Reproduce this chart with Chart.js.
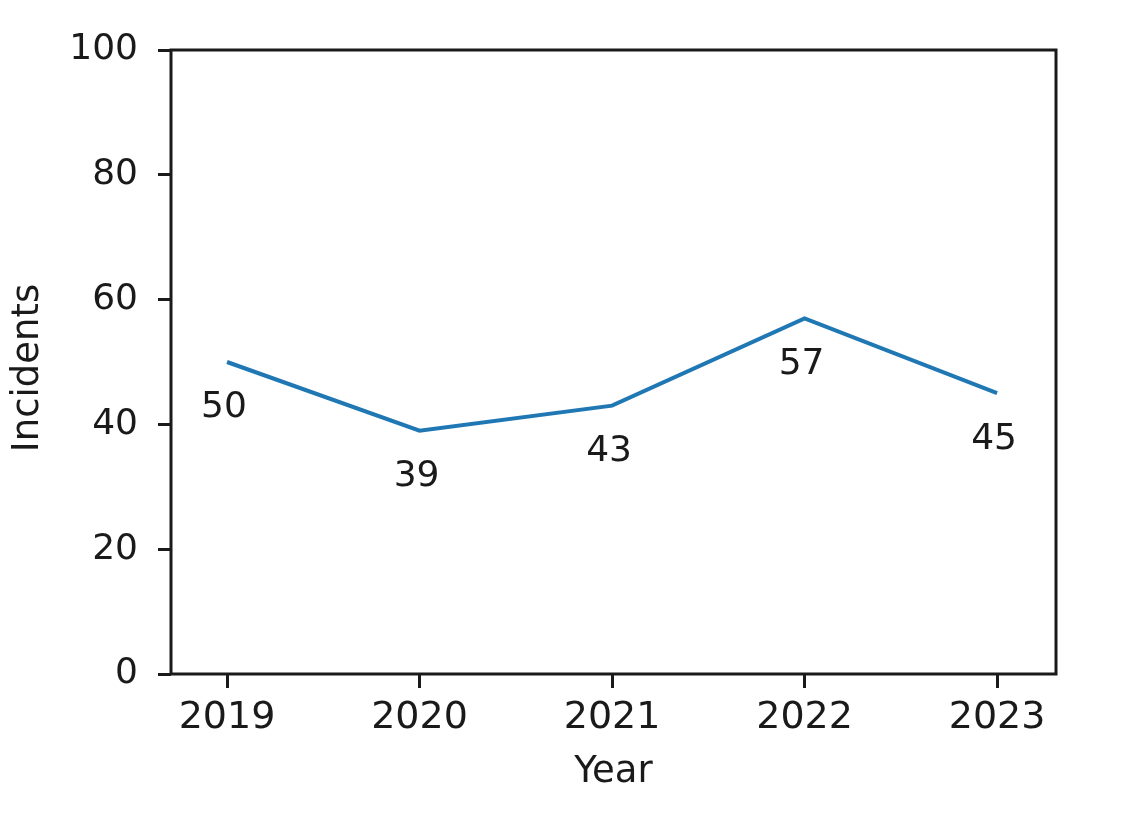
<!DOCTYPE html>
<html>
<head>
<meta charset="utf-8">
<script src="https://cdn.jsdelivr.net/npm/chart.js@4/dist/chart.umd.min.js"></script>
<style>
  html, body { margin: 0; padding: 0; background: #fff; }
  #wrap { width: 1122px; height: 829px; }
</style>
</head>
<body>
<div id="wrap"><canvas id="chart" width="1122" height="829"></canvas></div>
<script>
// data
const years = [2019, 2020, 2021, 2022, 2023];
const incidents = [50, 39, 43, 57, 45];
const yTicks = [0, 20, 40, 60, 80, 100];

const FONT = 'DejaVu Sans, sans-serif';
const INK = '#1a1a1a';

// full black box round the plot, like matplotlib spines
const frame = {
  id: 'frame',
  afterDraw(chart) {
    const { ctx, chartArea: a } = chart;
    ctx.save();
    ctx.strokeStyle = INK;
    ctx.lineWidth = 3;
    ctx.strokeRect(a.left, a.top, a.right - a.left, a.bottom - a.top);
    ctx.restore();
  }
};

// value labels under each point
const pointLabels = {
  id: 'pointLabels',
  afterDatasetsDraw(chart) {
    const { ctx } = chart;
    const meta = chart.getDatasetMeta(0);
    ctx.save();
    ctx.font = '36px ' + FONT;
    ctx.fillStyle = INK;
    ctx.textAlign = 'center';
    ctx.textBaseline = 'middle';
    meta.data.forEach((pt, i) => {
      ctx.fillText(String(incidents[i]), pt.x - 3, pt.y + 46);
    });
    ctx.restore();
  }
};

// axis titles placed where matplotlib put them
const axisTitles = {
  id: 'axisTitles',
  afterDraw(chart) {
    const { ctx, chartArea: a } = chart;
    ctx.save();
    ctx.font = '37px ' + FONT;
    ctx.fillStyle = INK;
    ctx.textAlign = 'center';
    ctx.textBaseline = 'middle';
    ctx.fillText('Year', (a.left + a.right) / 2, 772);
    ctx.translate(28, (a.top + a.bottom) / 2 + 6);
    ctx.rotate(-Math.PI / 2);
    ctx.fillText('Incidents', 0, 0);
    ctx.restore();
  }
};

new Chart(document.getElementById('chart'), {
  type: 'line',
  data: {
    datasets: [{
      data: years.map((y, i) => ({ x: y, y: incidents[i] })),
      borderColor: '#1f77b4',
      borderWidth: 4,
      pointRadius: 0,
      tension: 0,
      fill: false
    }]
  },
  options: {
    responsive: false,
    animation: false,
    layout: { padding: { top: 50, right: 66, left: 0, bottom: 0 } },
    plugins: { legend: { display: false }, tooltip: { enabled: false } },
    scales: {
      x: {
        type: 'linear',
        min: 2018.709,
        max: 2023.306,
        afterBuildTicks: s => { s.ticks = years.map(v => ({ value: v })); },
        afterFit: s => { s.height = 155; },
        grid: { drawOnChartArea: false, tickLength: 14, tickWidth: 3, color: INK },
        border: { display: false },
        ticks: {
          color: INK, font: { family: FONT, size: 38 }, padding: 7,
          maxRotation: 0, callback: v => String(v)
        }
      },
      y: {
        min: 0,
        max: 100,
        afterBuildTicks: s => { s.ticks = yTicks.map(v => ({ value: v })); },
        afterFit: s => { s.width = 171; },
        grid: { drawOnChartArea: false, tickLength: 13, tickWidth: 3, color: INK },
        border: { display: false },
        ticks: { color: INK, font: { family: FONT, size: 36 }, padding: 20 }
      }
    }
  },
  plugins: [frame, pointLabels, axisTitles]
});
</script>
</body>
</html>
